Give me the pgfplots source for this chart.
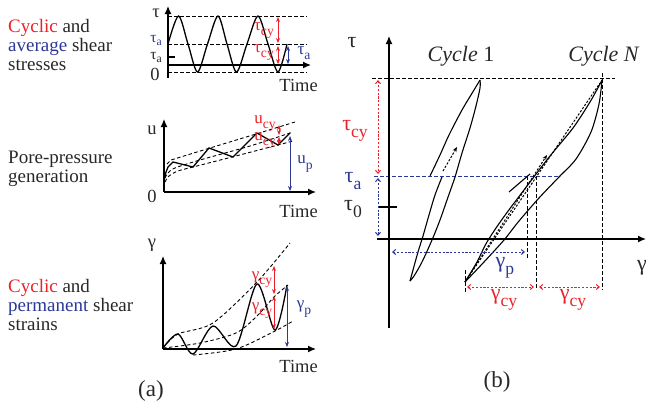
\documentclass[border=0pt]{standalone}
\usepackage{graphicx}
\usepackage{pgfplots}
\pgfplotsset{compat=1.18}
\usetikzlibrary{arrows.meta}
\usepackage{fontspec}
\setmainfont{Liberation Serif}
\definecolor{cred}{RGB}{236,32,40}
\definecolor{cblue}{RGB}{44,56,150}
\definecolor{ctext}{RGB}{40,40,40}
\newcommand{\sub}[1]{\raisebox{-0.3em}{\scalebox{0.8}{#1}}}
\newcommand{\ssub}[1]{\raisebox{-0.2em}{\scalebox{0.75}{#1}}}
\tikzset{
  dsh/.style={dash pattern=on 3.5pt off 2.5pt,line width=0.9pt},
  dot/.style={dash pattern=on 2.2pt off 1.6pt,line width=1pt},
  axarr/.style={line width=1.3pt,arrows={-Latex[length=8pt,width=7pt]}},
  darr/.style={line width=1pt,arrows={Stealth[length=5pt,width=4pt]-Stealth[length=5pt,width=4pt]}},
  parr/.style={line width=1pt,arrows={Straight Barb[length=3pt,width=5pt]-Straight Barb[length=3pt,width=5pt]}},
  lt/.style={font=\fontsize{19}{19}\selectfont,text=ctext,inner sep=0pt},
  sl/.style={font=\fontsize{17}{17}\selectfont,text=ctext,inner sep=0pt},
  tl/.style={font=\fontsize{15.5}{16}\selectfont,text=ctext,inner sep=0pt},
  al/.style={font=\fontsize{18.5}{20}\selectfont,text=ctext,inner sep=0pt},
  bl/.style={font=\fontsize{22}{24}\selectfont,text=ctext,inner sep=0pt}}
\begin{document}
\begin{tikzpicture}
\begin{axis}[at={(0,0)},anchor=south west,scale only axis,width=646pt,height=405pt,
  xmin=0,xmax=646,ymin=0,ymax=405,y dir=reverse,axis lines=none,clip=false,
  every axis plot/.append style={line width=1.1pt,color=black}]

% ---------- panel (a) 1: shear stresses ----------
\addplot[dsh] coordinates {(168,16) (307,16)};
\addplot[dsh] coordinates {(168,44) (307,44)};
\addplot[dsh] coordinates {(168,72) (307,72)};
\addplot[axarr] coordinates {(168,78) (168,6)};
\addplot[axarr] coordinates {(168,65) (311,65)};
\addplot[line width=1.1pt] coordinates {(168,57) (175,57)};
\addplot[smooth,line width=1.3pt] coordinates {(168,44) (178.5,16) (188,44) (197.5,72) (207.5,44) (218,16) (227,44) (236.5,72) (247,44) (258,16) (268,44) (278,72) (287,44)};
\addplot[cred,darr] coordinates {(278,17) (278,43)};
\addplot[cred,darr] coordinates {(278,46) (278,64)};
\addplot[cblue,darr] coordinates {(288,46) (288,64)};
\node[al] at (156,13) {τ};
\node[tl,text=cblue] at (156,40.5) {τ\ssub{a}};
\node[tl] at (156,57.5) {τ\ssub{a}};
\node[al] at (155,74) {0};
\node[al,anchor=base east] at (318,91) {Time};
\node[sl,text=cred] at (264,31) {τ\sub{cy}};
\node[sl,text=cred] at (264,53) {τ\sub{cy}};
\node[sl,text=cblue] at (304,53) {τ\sub{a}};
\node[lt,anchor=base west] at (8,32) {\textcolor{cred}{Cyclic} and};
\node[lt,anchor=base west] at (8,51) {\textcolor{cblue}{average} shear};
\node[lt,anchor=base west] at (8,70) {stresses};

% ---------- panel (a) 2: pore pressure ----------
\addplot[dsh] coordinates {(167,164) (171,160) (210,148) (256,134) (295,122)};
\addplot[dsh,smooth] coordinates {(165,178) (168,173) (175,168) (200,160) (250,146) (293,132)};
\addplot[dsh,smooth] coordinates {(165,182) (169,176) (178,171) (193,167) (232,157) (278,145) (293,141)};
\addplot[axarr] coordinates {(164,192) (164,119)};
\addplot[axarr] coordinates {(164,192) (316,192)};
\addplot[line width=1.3pt] coordinates {(164,181) (166,172) (168,167) (173,162) (193,167) (209,148) (233,157) (257,133) (278,145) (290,133)};
\addplot[cred,darr] coordinates {(279,125) (279,135)};
\addplot[cred,darr] coordinates {(279,137) (279,145)};
\addplot[cblue,darr] coordinates {(290,136) (290,191)};
\node[al] at (152,130) {u};
\node[al] at (152,196) {0};
\node[al,anchor=base east] at (318,217) {Time};
\node[sl,text=cred] at (265,124) {u\sub{cy}};
\node[sl,text=cred] at (265,141) {u\sub{cy}};
\node[sl,text=cblue] at (305,164) {u\sub{p}};
\node[lt,anchor=base west] at (8,163) {Pore-pressure};
\node[lt,anchor=base west] at (8,182) {generation};

% ---------- panel (a) 3: shear strains ----------
\addplot[dsh,smooth] coordinates {(163,348) (178,334) (213,323) (257,282) (290,243)};
\addplot[dsh,smooth] coordinates {(163,348) (200,343) (236,333) (257,316) (274,297) (288,285)};
\addplot[dsh,smooth] coordinates {(193,355) (236,349) (275,331) (293,321)};
\addplot[axarr] coordinates {(163,349) (163,256)};
\addplot[axarr] coordinates {(163,349) (316,349)};
\addplot[smooth,line width=1.3pt] coordinates {(163,348) (178,334) (193,354) (213,326) (236,346) (257,284) (275,330) (287,285)};
\addplot[cred,darr] coordinates {(274,266) (274,294)};
\addplot[cred,darr] coordinates {(274,296) (274,329)};
\addplot[cblue,darr] coordinates {(287,286) (287,347)};
\node[al] at (152,245) {γ};
\node[al,anchor=base east] at (318,372) {Time};
\node[sl,text=cred] at (262,280) {γ\sub{cy}};
\node[sl,text=cred] at (262,311) {γ\sub{cy}};
\node[sl,text=cblue] at (304,309) {γ\sub{p}};
\node[lt,anchor=base west] at (8,292) {\textcolor{cred}{Cyclic} and};
\node[lt,anchor=base west] at (8,311) {\textcolor{cblue}{permanent} shear};
\node[lt,anchor=base west] at (8,330) {strains};
\node[bl,font=\fontsize{23}{24}\selectfont] at (151,391) {(a)};

% ---------- panel (b) ----------
\addplot[dsh] coordinates {(372,78) (615,78)};
\addplot[dsh] coordinates {(602,73) (602,290)};
\addplot[dsh] coordinates {(527,176) (527,258)};
\addplot[dsh] coordinates {(536,176) (536,290)};
\addplot[dsh] coordinates {(465,270) (465,292)};
\addplot[dsh,cblue] coordinates {(374,176) (558,176)};
\addplot[axarr] coordinates {(389,328) (389,36)};
\addplot[axarr] coordinates {(377,239) (646,239)};
\addplot[line width=1.1pt] coordinates {(379,207) (397,207)};
% cycle 1
\addplot[smooth] coordinates {(430,176) (440,155) (449,135) (462,110) (474,90) (480,80)};
\addplot[smooth] coordinates {(480,80) (480,88) (476,106) (470,128) (462,153) (455,177) (447,200) (440,220) (432,240) (422,262) (414,276) (410,281)};
\addplot[smooth] coordinates {(410,281) (413,270) (418,252) (423,236) (429,215) (435,195) (442,177)};
\addplot[dot,arrows={-Stealth[length=5pt,width=4pt]}] coordinates {(443,171) (457,147)};
% cycle N
\addplot[smooth] coordinates {(465,282) (477,262) (487,242) (503,218) (527,186) (550,156) (573,128) (590,102) (600,84) (602,80)};
\addplot[smooth] coordinates {(602,80) (599,104) (591,132) (576,159) (559,177) (539,198) (519,221) (504,240) (484,262) (465,282)};
\addplot[line width=1.1pt] coordinates {(509,192) (530,174)};
\addplot[dot,arrows={-Stealth[length=5pt,width=4pt]}] coordinates {(465,282) (547,155)};
\addplot[dot] coordinates {(465,282) (600,83)};
% dimension arrows
\addplot[cred,parr,dot] coordinates {(378,80) (378,174)};
\addplot[cblue,parr,dot] coordinates {(378,178) (378,236)};
\addplot[cblue,parr,dot] coordinates {(392,252) (525,252)};
\addplot[cred,parr,dot] coordinates {(467,287) (534,287)};
\addplot[cred,parr,dot] coordinates {(539,287) (600,287)};
\node[bl] at (352,43) {τ};
\node[bl] at (642,268) {γ};
\node[bl] at (461,56) {\textit{Cycle} 1};
\node[bl] at (604,56) {\textit{Cycle N}};
\node[bl,text=cred] at (355,131) {τ\sub{cy}};
\node[bl,text=cblue] at (353,181) {τ\sub{a}};
\node[bl] at (353,209) {τ\sub{0}};
\node[bl,text=cblue] at (505,268) {γ\sub{p}};
\node[bl,text=cred] at (504,300) {γ\sub{cy}};
\node[bl,text=cred] at (573,300) {γ\sub{cy}};
\node[bl,font=\fontsize{23}{24}\selectfont] at (497,382) {(b)};
\end{axis}
\pgfresetboundingbox
\path (0,0) rectangle (646pt,405pt);
\end{tikzpicture}
\end{document}
